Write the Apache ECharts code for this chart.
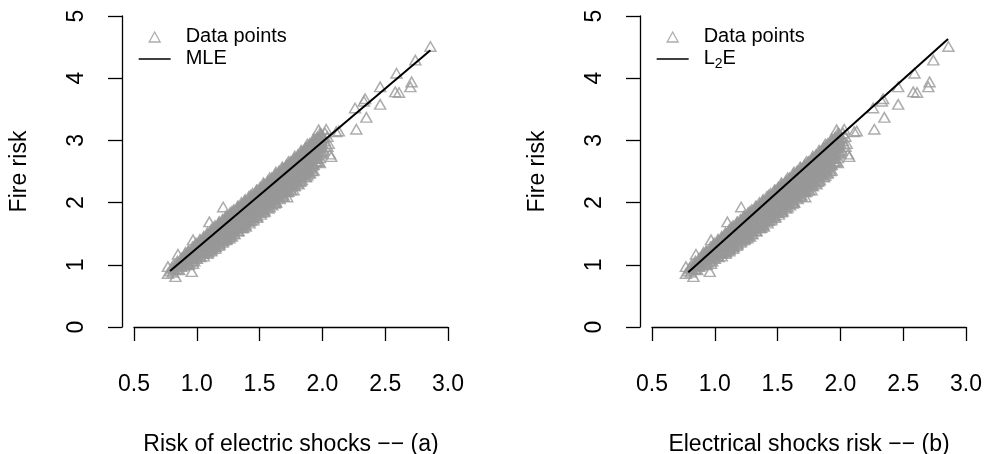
<!DOCTYPE html>
<html>
<head>
<meta charset="utf-8">
<style>html,body{margin:0;padding:0;background:#fff;}#c{width:984px;height:454px;}</style>
<script src="https://cdn.jsdelivr.net/npm/echarts@6/dist/echarts.min.js"></script>
</head>
<body>
<div id="c"></div>
<script>
// ---- data ----
var xTicks = [0.5, 1.0, 1.5, 2.0, 2.5, 3.0];
var yTicks = [0, 1, 2, 3, 4, 5];
var titlesX = ['Risk of electric shocks \u2212\u2212 (a)', 'Electrical shocks risk \u2212\u2212 (b)'];
var titleY = 'Fire risk';
var pointsName = 'Data points';
var fitNames = ['MLE', 'L2E'];
var mleFit = [[0.787, 0.90], [2.86, 4.45]];
var l2eFit = [[0.789, 0.88], [2.857, 4.63]];
var points = [
[0.77,0.97],[0.77,0.86],[0.79,0.90],
[0.80,0.95],[0.81,0.88],[0.82,0.93],
[0.83,0.81],[0.84,1.00],[0.84,0.94],[0.85,1.17],[0.85,1.03],
[0.87,1.06],[0.87,0.98],[0.88,1.02],[0.86,0.92],
[0.90,1.12],[0.90,1.05],[0.91,1.20],[0.89,0.99],[0.91,1.08],
[0.93,1.17],[0.93,1.10],[0.94,1.04],[0.92,1.14],[0.94,1.13],
[0.96,0.89],[0.96,1.22],[0.96,1.15],[0.97,1.02],[0.97,1.40],[0.95,1.19],[0.97,1.09],
[0.99,1.28],[0.99,1.22],[1.00,1.16],[0.98,1.25],[1.00,1.10],[0.99,1.31],
[1.02,1.34],[1.02,1.27],[1.01,1.21],[1.03,1.30],[1.02,1.15],[1.03,1.36],[1.01,1.24],
[1.05,1.40],[1.05,1.33],[1.04,1.26],[1.06,1.36],[1.05,1.19],[1.06,1.43],[1.04,1.30],[1.06,1.23],
[1.08,1.45],[1.08,1.39],[1.07,1.31],[1.09,1.41],[1.08,1.25],[1.09,1.48],[1.07,1.36],[1.09,1.22],
[1.10,1.69],[1.11,1.51],[1.11,1.44],[1.10,1.37],[1.12,1.47],[1.11,1.30],[1.12,1.54],[1.10,1.40],[1.12,1.27],[1.10,1.24],
[1.14,1.56],[1.14,1.49],[1.13,1.42],[1.15,1.52],[1.14,1.34],[1.15,1.59],[1.13,1.46],[1.15,1.29],[1.14,1.38],
[1.17,1.61],[1.17,1.55],[1.16,1.47],[1.18,1.57],[1.17,1.39],[1.18,1.64],[1.16,1.51],[1.18,1.33],[1.17,1.44],
[1.21,1.93],[1.20,1.67],[1.20,1.60],[1.19,1.52],[1.21,1.63],[1.20,1.43],[1.21,1.70],[1.19,1.56],[1.21,1.38],[1.20,1.48],
[1.23,1.72],[1.23,1.65],[1.22,1.57],[1.24,1.68],[1.23,1.49],[1.24,1.75],[1.22,1.61],[1.24,1.42],[1.23,1.53],
[1.26,1.78],[1.26,1.70],[1.25,1.62],[1.27,1.73],[1.26,1.53],[1.27,1.80],[1.25,1.66],[1.26,1.43],[1.27,1.58],[1.26,1.48],
[1.29,1.83],[1.29,1.76],[1.28,1.67],[1.30,1.78],[1.29,1.57],[1.30,1.86],[1.28,1.71],[1.30,1.50],[1.29,1.62],[1.28,1.53],
[1.32,1.88],[1.32,1.81],[1.31,1.72],[1.33,1.83],[1.32,1.62],[1.33,1.91],[1.31,1.76],[1.33,1.55],[1.32,1.67],[1.31,1.58],
[1.35,1.94],[1.35,1.86],[1.34,1.77],[1.36,1.89],[1.35,1.67],[1.36,1.96],[1.34,1.81],[1.36,1.59],[1.35,1.72],[1.34,1.63],
[1.38,1.99],[1.38,1.91],[1.37,1.82],[1.39,1.94],[1.38,1.71],[1.39,2.01],[1.37,1.86],[1.39,1.62],[1.38,1.76],[1.37,1.66],[1.37,1.60],
[1.41,2.04],[1.41,1.96],[1.40,1.87],[1.42,1.99],[1.41,1.76],[1.42,2.06],[1.40,1.91],[1.42,1.67],[1.41,1.81],[1.40,1.71],
[1.44,2.09],[1.44,2.01],[1.43,1.92],[1.45,2.05],[1.44,1.81],[1.45,2.11],[1.43,1.96],[1.45,1.72],[1.44,1.86],[1.43,1.76],[1.45,1.75],
[1.47,2.14],[1.47,2.06],[1.46,1.97],[1.48,2.10],[1.47,1.85],[1.48,2.17],[1.46,2.01],[1.48,1.76],[1.47,1.91],[1.46,1.80],
[1.50,2.20],[1.50,2.11],[1.49,2.02],[1.51,2.15],[1.50,1.90],[1.51,2.22],[1.49,2.06],[1.51,1.81],[1.50,1.96],[1.49,1.85],
[1.53,2.25],[1.53,2.17],[1.52,2.07],[1.54,2.20],[1.53,1.95],[1.54,2.27],[1.52,2.11],[1.54,1.86],[1.53,2.01],[1.52,1.89],[1.53,1.88],
[1.56,2.30],[1.56,2.22],[1.55,2.12],[1.57,2.26],[1.56,2.00],[1.57,2.32],[1.55,2.16],[1.57,1.91],[1.56,2.06],[1.55,1.94],
[1.59,2.35],[1.59,2.27],[1.58,2.17],[1.60,2.31],[1.59,2.05],[1.60,2.38],[1.58,2.21],[1.60,1.96],[1.59,2.11],[1.58,1.99],
[1.62,2.40],[1.62,2.32],[1.61,2.22],[1.63,2.36],[1.62,2.10],[1.63,2.43],[1.61,2.26],[1.63,2.00],[1.62,2.16],[1.61,2.04],[1.62,1.99],
[1.65,2.46],[1.65,2.37],[1.64,2.27],[1.66,2.41],[1.65,2.15],[1.66,2.48],[1.64,2.31],[1.66,2.06],[1.65,2.21],[1.64,2.10],
[1.68,2.51],[1.68,2.42],[1.67,2.32],[1.69,2.46],[1.68,2.20],[1.69,2.54],[1.67,2.36],[1.69,2.11],[1.68,2.26],[1.67,2.15],
[1.71,2.56],[1.71,2.47],[1.70,2.37],[1.72,2.52],[1.71,2.25],[1.72,2.59],[1.70,2.41],[1.72,2.09],[1.71,2.31],[1.70,2.19],[1.72,2.17],
[1.74,2.61],[1.74,2.52],[1.73,2.42],[1.75,2.57],[1.74,2.30],[1.75,2.64],[1.73,2.46],[1.75,2.20],[1.74,2.36],[1.73,2.24],
[1.77,2.67],[1.77,2.58],[1.76,2.47],[1.78,2.62],[1.77,2.35],[1.78,2.70],[1.76,2.51],[1.77,2.20],[1.77,2.41],[1.76,2.29],
[1.80,2.72],[1.80,2.63],[1.79,2.52],[1.81,2.67],[1.80,2.40],[1.81,2.76],[1.79,2.56],[1.81,2.30],[1.80,2.46],[1.79,2.34],
[1.83,2.77],[1.83,2.68],[1.82,2.57],[1.84,2.73],[1.83,2.45],[1.84,2.82],[1.82,2.62],[1.82,2.34],[1.83,2.51],[1.82,2.39],
[1.86,2.83],[1.86,2.73],[1.85,2.62],[1.87,2.79],[1.86,2.50],[1.87,2.89],[1.85,2.67],[1.87,2.41],[1.86,2.56],[1.85,2.45],
[1.89,2.88],[1.89,2.78],[1.88,2.67],[1.90,2.84],[1.89,2.55],[1.90,2.95],[1.88,2.72],[1.90,2.48],[1.89,2.61],[1.88,2.50],
[1.92,2.94],[1.92,2.84],[1.91,2.72],[1.93,2.90],[1.92,2.60],[1.93,3.00],[1.91,2.77],[1.92,2.51],[1.92,2.66],[1.91,2.55],
[1.95,2.99],[1.95,2.89],[1.94,2.77],[1.96,2.96],[1.95,2.65],[1.96,3.05],[1.94,2.82],[1.97,2.66],[1.95,2.71],
[1.97,3.17],[1.98,3.04],[1.98,2.94],[1.97,2.82],[1.99,3.01],[1.98,2.72],[1.99,3.10],[1.97,2.88],
[2.01,3.05],[2.00,2.94],[2.02,2.99],[2.01,2.84],[2.03,3.18],[2.02,3.12],[2.00,2.80],
[2.05,2.95],[2.06,2.78],[2.07,2.74],[2.04,3.06],[2.04,2.90],
[2.11,3.14],[2.13,3.15],[2.27,3.18],[2.26,3.52],[2.33,3.63],[2.34,3.67],[2.35,3.37],
[2.46,3.86],[2.46,3.58],[2.58,3.78],[2.61,3.77],[2.59,4.08],[2.70,3.86],[2.71,3.94],[2.74,4.29],[2.86,4.51],
[0.815,1.00],[0.815,0.93],
[0.845,1.06],[0.845,0.99],[0.845,0.93],
[0.875,1.11],[0.875,1.04],[0.875,0.97],
[0.905,1.17],[0.905,1.09],[0.905,1.02],
[0.935,1.22],[0.935,1.15],[0.935,1.07],[0.935,1.01],
[0.965,1.29],[0.965,1.20],[0.965,1.12],[0.965,1.06],
[0.995,1.35],[0.995,1.26],[0.995,1.18],[0.995,1.11],
[1.025,1.41],[1.025,1.35],[1.025,1.29],[1.025,1.21],[1.025,1.14],
[1.055,1.46],[1.055,1.41],[1.055,1.34],[1.055,1.26],[1.055,1.19],[1.055,1.14],
[1.085,1.52],[1.085,1.46],[1.085,1.39],[1.085,1.31],[1.085,1.24],[1.085,1.18],
[1.115,1.57],[1.115,1.51],[1.115,1.44],[1.115,1.36],[1.115,1.29],[1.115,1.22],
[1.145,1.63],[1.145,1.57],[1.145,1.49],[1.145,1.41],[1.145,1.33],[1.145,1.26],
[1.175,1.68],[1.175,1.62],[1.175,1.54],[1.175,1.46],[1.175,1.39],[1.175,1.31],
[1.205,1.73],[1.205,1.67],[1.205,1.59],[1.205,1.51],[1.205,1.44],[1.205,1.36],
[1.235,1.79],[1.235,1.72],[1.235,1.64],[1.235,1.56],[1.235,1.49],[1.235,1.41],
[1.265,1.84],[1.265,1.77],[1.265,1.69],[1.265,1.61],[1.265,1.53],[1.265,1.46],
[1.295,1.89],[1.295,1.83],[1.295,1.74],[1.295,1.66],[1.295,1.58],[1.295,1.50],
[1.325,1.94],[1.325,1.88],[1.325,1.80],[1.325,1.71],[1.325,1.63],[1.325,1.55],
[1.355,2.00],[1.355,1.93],[1.355,1.85],[1.355,1.76],[1.355,1.68],[1.355,1.60],
[1.385,2.05],[1.385,1.98],[1.385,1.90],[1.385,1.81],[1.385,1.73],[1.385,1.65],
[1.415,2.10],[1.415,2.03],[1.415,1.95],[1.415,1.86],[1.415,1.78],[1.415,1.70],
[1.445,2.15],[1.445,2.08],[1.445,2.00],[1.445,1.91],[1.445,1.83],[1.445,1.75],
[1.475,2.20],[1.475,2.13],[1.475,2.05],[1.475,1.96],[1.475,1.88],[1.475,1.79],
[1.505,2.25],[1.505,2.18],[1.505,2.10],[1.505,2.01],[1.505,1.92],[1.505,1.84],
[1.535,2.30],[1.535,2.23],[1.535,2.15],[1.535,2.06],[1.535,1.97],[1.535,1.88],
[1.565,2.35],[1.565,2.29],[1.565,2.20],[1.565,2.11],[1.565,2.02],[1.565,1.93],
[1.595,2.40],[1.595,2.34],[1.595,2.25],[1.595,2.16],[1.595,2.07],[1.595,1.98],
[1.625,2.46],[1.625,2.39],[1.625,2.31],[1.625,2.21],[1.625,2.12],[1.625,2.03],
[1.655,2.51],[1.655,2.44],[1.655,2.36],[1.655,2.26],[1.655,2.17],[1.655,2.08],
[1.685,2.56],[1.685,2.49],[1.685,2.41],[1.685,2.31],[1.685,2.22],[1.685,2.13],
[1.715,2.61],[1.715,2.54],[1.715,2.46],[1.715,2.36],[1.715,2.27],[1.715,2.18],
[1.745,2.66],[1.745,2.60],[1.745,2.51],[1.745,2.41],[1.745,2.32],[1.745,2.22],
[1.775,2.71],[1.775,2.65],[1.775,2.56],[1.775,2.46],[1.775,2.37],[1.775,2.27],
[1.805,2.77],[1.805,2.70],[1.805,2.61],[1.805,2.51],[1.805,2.42],[1.805,2.32],
[1.835,2.82],[1.835,2.75],[1.835,2.66],[1.835,2.56],[1.835,2.47],[1.835,2.37],
[1.865,2.88],[1.865,2.81],[1.865,2.72],[1.865,2.62],[1.865,2.52],[1.865,2.42],
[1.895,2.93],[1.895,2.86],[1.895,2.77],[1.895,2.67],[1.895,2.57],[1.895,2.47],
[1.925,2.99],[1.925,2.91],[1.925,2.82],[1.925,2.72],[1.925,2.62],
[1.955,3.04],[1.955,2.96],[1.955,2.87],[1.955,2.77],[1.955,2.67],
[1.985,3.09],[1.985,3.01],[1.985,2.92],[1.985,2.82],
[0.997,1.31],[0.997,1.24],[0.997,1.17],
[1.027,1.38],[1.027,1.32],[1.027,1.25],[1.027,1.18],
[1.057,1.43],[1.057,1.37],[1.057,1.30],[1.057,1.22],
[1.087,1.49],[1.087,1.42],[1.087,1.35],[1.087,1.27],[1.087,1.20],
[1.117,1.54],[1.117,1.48],[1.117,1.40],[1.117,1.32],[1.117,1.24],
[1.147,1.60],[1.147,1.53],[1.147,1.45],[1.147,1.37],[1.147,1.29],
[1.177,1.65],[1.177,1.58],[1.177,1.50],[1.177,1.42],[1.177,1.34],
[1.207,1.70],[1.207,1.63],[1.207,1.55],[1.207,1.47],[1.207,1.39],
[1.237,1.75],[1.237,1.68],[1.237,1.60],[1.237,1.52],[1.237,1.44],
[1.267,1.80],[1.267,1.73],[1.267,1.65],[1.267,1.57],[1.267,1.49],
[1.297,1.86],[1.297,1.79],[1.297,1.71],[1.297,1.63],[1.297,1.55],
[1.327,1.91],[1.327,1.84],[1.327,1.76],[1.327,1.68],[1.327,1.60],
[1.357,1.96],[1.357,1.89],[1.357,1.81],[1.357,1.73],[1.357,1.65],
[1.387,2.01],[1.387,1.94],[1.387,1.86],[1.387,1.78],[1.387,1.70],
[1.417,2.06],[1.417,1.99],[1.417,1.91],[1.417,1.83],[1.417,1.75],
[1.447,2.11],[1.447,2.04],[1.447,1.96],[1.447,1.88],[1.447,1.80],
[1.477,2.17],[1.477,2.10],[1.477,2.02],[1.477,1.94],[1.477,1.86],
[1.507,2.22],[1.507,2.15],[1.507,2.07],[1.507,1.99],[1.507,1.91],
[1.537,2.27],[1.537,2.20],[1.537,2.12],[1.537,2.04],[1.537,1.96],
[1.567,2.32],[1.567,2.25],[1.567,2.17],[1.567,2.09],[1.567,2.01],
[1.597,2.37],[1.597,2.30],[1.597,2.22],[1.597,2.14],[1.597,2.06],
[1.627,2.42],[1.627,2.35],[1.627,2.27],[1.627,2.19],[1.627,2.11],
[1.657,2.48],[1.657,2.41],[1.657,2.33],[1.657,2.25],[1.657,2.17],
[1.687,2.53],[1.687,2.46],[1.687,2.38],[1.687,2.30],[1.687,2.22],
[1.717,2.58],[1.717,2.51],[1.717,2.43],[1.717,2.35],[1.717,2.27],
[1.747,2.63],[1.747,2.56],[1.747,2.48],[1.747,2.40],[1.747,2.32],
[1.777,2.68],[1.777,2.61],[1.777,2.53],[1.777,2.45],[1.777,2.37],
[1.807,2.73],[1.807,2.66],[1.807,2.58],[1.807,2.50],[1.807,2.42],
[1.837,2.78],[1.837,2.71],[1.837,2.63],[1.837,2.55],[1.837,2.47],
[1.867,2.84],[1.867,2.77],[1.867,2.69],[1.867,2.61],[1.867,2.53],
[1.897,2.89],[1.897,2.82],[1.897,2.74],[1.897,2.66],[1.897,2.58],
[1.927,2.94],[1.927,2.87],[1.927,2.79],[1.927,2.71],
[1.957,2.99],[1.957,2.92],[1.957,2.84],[1.957,2.76],
[1.987,3.04],[1.987,2.97],[1.987,2.89],
[0.93,1.22],[0.93,1.18],[0.93,1.00],
[0.98,1.30],[0.98,1.26],[0.98,1.06],
[1.03,1.39],[1.03,1.35],[1.03,1.13],
[1.08,1.47],[1.08,1.44],[1.08,1.21],
[1.13,1.60],[1.13,1.56],[1.13,1.30],
[1.18,1.69],[1.18,1.65],[1.18,1.36],
[1.23,1.77],[1.23,1.73],[1.23,1.40],[1.23,1.45],
[1.28,1.86],[1.28,1.82],[1.28,1.46],[1.28,1.53],
[1.33,1.94],[1.33,1.90],[1.33,1.54],[1.33,1.61],
[1.38,2.03],[1.38,1.99],[1.38,1.63],[1.38,1.70],
[1.43,2.12],[1.43,2.08],[1.43,1.71],[1.43,1.78],
[1.48,2.20],[1.48,2.16],[1.48,1.78],[1.48,1.86],
[1.53,2.32],[1.53,2.27],[1.53,1.85],[1.53,1.94],
[1.58,2.40],[1.58,2.35],[1.58,1.93],[1.58,2.02],
[1.63,2.49],[1.63,2.44],[1.63,2.01],[1.63,2.10],
[1.68,2.57],[1.68,2.52],[1.68,2.10],[1.68,2.19],
[1.73,2.66],[1.73,2.61],[1.73,2.18],[1.73,2.27],
[1.78,2.75],[1.78,2.70],[1.78,2.27],[1.78,2.36],
[1.83,2.84],[1.83,2.78],[1.83,2.35],[1.83,2.44],
[1.88,2.94],[1.88,2.87],[1.88,2.44],[1.88,2.53],
[1.93,3.03],[1.93,2.96],[1.93,2.52],[1.93,2.61],
[1.98,3.12],[1.98,3.05],[1.98,2.64]
];

// ---- styling ----
var FONT = 'Liberation Sans, Arial, Helvetica, sans-serif';
var PANEL_DX = 518;
var grids = [0, 1].map(function (i) {
  return { left: 134 + i * PANEL_DX, width: 314, top: 16, height: 311,
    containLabel: false, outerBoundsMode: 'none' };
});
function xAx(i) {
  return {
    type: 'value', gridIndex: i, min: xTicks[0], max: xTicks[xTicks.length - 1], interval: 0.5,
    offset: 13,
    axisLine: { show: true, lineStyle: { color: '#000', width: 1.3 } },
    axisTick: { show: true, length: 14, lineStyle: { color: '#000', width: 1.3 } },
    splitLine: { show: false },
    axisLabel: { color: '#000', fontSize: 23, fontFamily: FONT, margin: 33,
      formatter: function (v) { return v.toFixed(1); } },
    name: titlesX[i], nameLocation: 'middle', nameGap: 93,
    nameTextStyle: { color: '#000', fontSize: 23, fontFamily: FONT }
  };
}
function yAx(i) {
  return {
    type: 'value', gridIndex: i, min: yTicks[0], max: yTicks[yTicks.length - 1], interval: 1,
    offset: 12,
    axisLine: { show: true, lineStyle: { color: '#000', width: 1.3 } },
    axisTick: { show: true, length: 14, lineStyle: { color: '#000', width: 1.3 } },
    splitLine: { show: false },
    axisLabel: { color: '#000', fontSize: 23, fontFamily: FONT, margin: 34, rotate: 90 },
    name: titleY, nameLocation: 'middle', nameGap: 91,
    nameTextStyle: { color: '#000', fontSize: 23, fontFamily: FONT }
  };
}
var pointStyle = { color: 'rgba(0,0,0,0)', borderColor: '#999999', borderWidth: 1.5 };
var richText = {
  a: { color: '#000', fontSize: 20, fontFamily: FONT, lineHeight: 22, verticalAlign: 'top' },
  s: { color: '#000', fontSize: 14, fontFamily: FONT, lineHeight: 14, verticalAlign: 'top', padding: [9, 0, 0, 0] }
};
function fmt(name) {
  if (name === 'L2E') return '{a|L}{s|2}{a|E}';
  return '{a|' + name + '}';
}
function legendPts(i) {
  return {
    left: 148.5 + i * PANEL_DX, top: 26, orient: 'vertical', padding: 0,
    itemWidth: 11, itemHeight: 10, selectedMode: false,
    data: [{ name: pointsName, icon: 'triangle' }],
    itemStyle: { borderWidth: 1.3, borderColor: '#999999', color: 'rgba(0,0,0,0)' },
    formatter: fmt,
    textStyle: { color: '#000', fontSize: 20, fontFamily: FONT, padding: [0, 0, 0, 20.5], rich: richText }
  };
}
function legendFit(i) {
  return {
    left: 138 + i * PANEL_DX, top: 48, orient: 'vertical', padding: 0,
    itemWidth: 32, itemHeight: 10, selectedMode: false,
    data: [{ name: fitNames[i], itemStyle: { color: 'rgba(0,0,0,0)', borderWidth: 0, opacity: 0 } }],
    lineStyle: { width: 1.3, color: '#000' },
    formatter: fmt,
    textStyle: { color: '#000', fontSize: 20, fontFamily: FONT, padding: [0, 0, 0, 10], rich: richText }
  };
}
var chart = echarts.init(document.getElementById('c'), null, { renderer: 'canvas' });
chart.setOption({
  animation: false,
  backgroundColor: '#fff',
  grid: grids,
  xAxis: [xAx(0), xAx(1)],
  yAxis: [yAx(0), yAx(1)],
  legend: [legendPts(0), legendFit(0), legendPts(1), legendFit(1)],
  series: [
    { name: pointsName, type: 'scatter', xAxisIndex: 0, yAxisIndex: 0, data: points,
      symbol: 'triangle', symbolSize: [11, 9.5], itemStyle: pointStyle, silent: true, z: 2 },
    { name: pointsName, type: 'scatter', xAxisIndex: 1, yAxisIndex: 1, data: points,
      symbol: 'triangle', symbolSize: [11, 9.5], itemStyle: pointStyle, silent: true, z: 2 },
    { name: fitNames[0], type: 'line', xAxisIndex: 0, yAxisIndex: 0, data: mleFit,
      symbol: 'none', showSymbol: false, lineStyle: { color: '#000', width: 2 }, itemStyle: { color: '#000' }, silent: true, z: 3 },
    { name: fitNames[1], type: 'line', xAxisIndex: 1, yAxisIndex: 1, data: l2eFit,
      symbol: 'none', showSymbol: false, lineStyle: { color: '#000', width: 2 }, itemStyle: { color: '#000' }, silent: true, z: 3 }
  ]
});
</script>
</body>
</html>
